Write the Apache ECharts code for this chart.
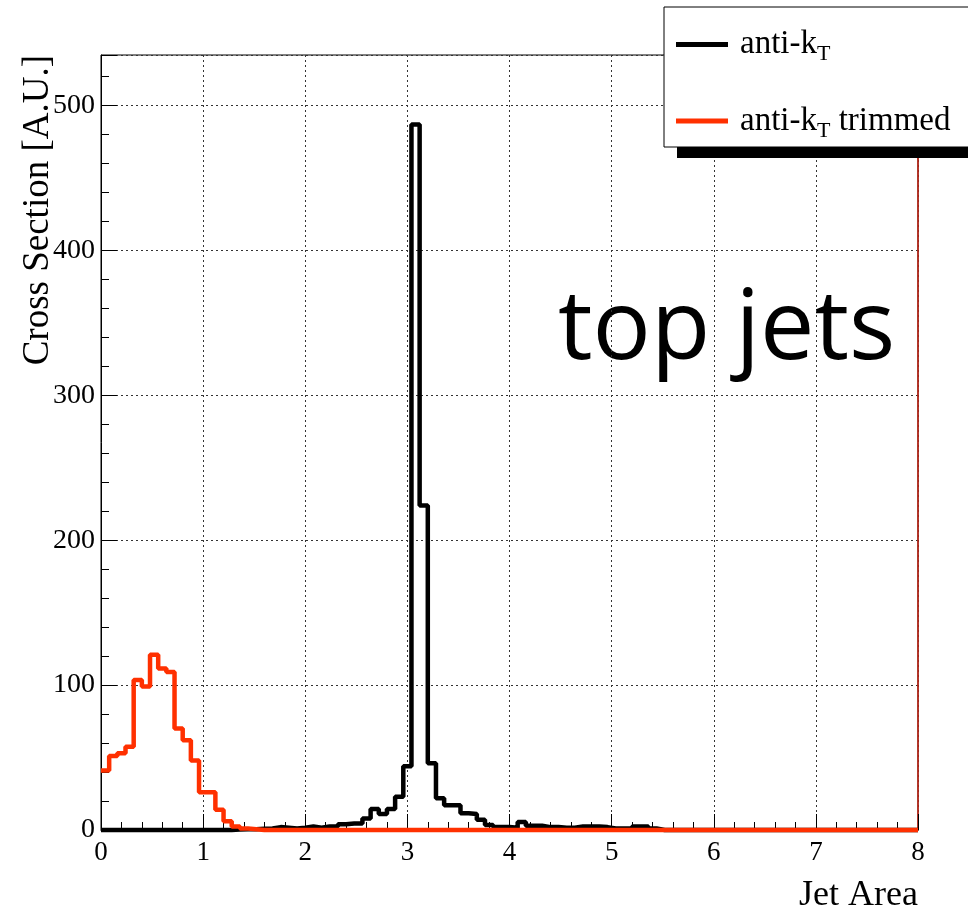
<!DOCTYPE html>
<html>
<head>
<meta charset="utf-8">
<script src="https://cdn.jsdelivr.net/npm/echarts@6.0.0/dist/echarts.min.js"></script>
<style>
  html, body { margin: 0; padding: 0; background: #fff; }
  #main { width: 968px; height: 916px; }
</style>
</head>
<body>
<div id="main"></div>
<script>
// histogram bins: 100 bins over [0, 8]
const binWidth = 0.08;

// anti-kT (black)
const antiKt = [
  0, 0, 0, 0, 0, 0, 0, 0, 0, 0,
  0, 0, 0, 0, 0, 0, 0.3, 0.5, 0.5, 0.8,
  1, 2, 1.5, 1, 1.5, 2.5, 1.5, 2.5, 2.5, 4,
  4.5, 4.5, 8, 14.5, 11, 14.5, 23, 44, 487, 224,
  46, 22, 17, 17, 11.5, 11, 7, 3.5, 2, 2,
  1.5, 5.5, 3, 3, 2, 2, 1.5, 1.5, 2.5, 2.5,
  2.5, 2, 1, 1, 1, 2.5, 2.5, 1, 0, 0,
  0, 0, 0, 0, 0, 0, 0, 0, 0, 0,
  0, 0, 0, 0, 0, 0, 0, 0, 0, 0,
  0, 0, 0, 0, 0, 0, 0, 0, 0, 0
];

// anti-kT trimmed (red)
const antiKtTrimmed = [
  41, 51, 53, 57.5, 103.5, 99, 121, 111.5, 109, 70,
  62, 48, 26, 26, 14, 6, 2.5, 1, 0.5, 0,
  0, 0, 0, 0, 0, 0, 0, 0, 0, 0,
  0, 0, 0, 0, 0, 0, 0, 0, 0, 0,
  0, 0, 0, 0, 0, 0, 0, 0, 0, 0,
  0, 0, 0, 0, 0, 0, 0, 0, 0, 0,
  0, 0, 0, 0, 0, 0, 0, 0, 0, 0,
  0, 0, 0, 0, 0, 0, 0, 0, 0, 0,
  0, 0, 0, 0, 0, 0, 0, 0, 0, 0,
  0, 0, 0, 0, 0, 0, 0, 0, 0, 0
];

const seriesNames = ['anti-kT', 'anti-kT trimmed'];
const legendLabels = {
  'anti-kT': '{f|anti-k}{s|T}',
  'anti-kT trimmed': '{f|anti-k}{s|T}{m| trimmed}'
};

const serif = '"Liberation Serif", "DejaVu Serif", serif';

// left bin edges -> step points, last edge closes the final bin
function toSteps(values) {
  const pts = values.map((v, i) => [i * binWidth, v]);
  pts.push([values.length * binWidth, values[values.length - 1]]);
  return pts;
}

const chart = echarts.init(document.getElementById('main'));

const option = {
  animation: false,
  backgroundColor: '#fff',
  grid: {
    left: 101, right: 50, top: 55, bottom: 86,
    show: true,
    borderColor: '#000',
    borderWidth: 1,
    outerBoundsMode: 'none'
  },
  legend: {
    orient: 'vertical',
    left: 663,
    top: 3,
    data: seriesNames,
    selectedMode: false,
    icon: 'rect',
    itemWidth: 52,
    itemHeight: 5,
    itemGap: 39,
    padding: [25, 40, 22, 13],
    formatter: name => legendLabels[name],
    textStyle: {
      color: '#000',
      fontFamily: serif,
      rich: {
        f: { fontSize: 33, fontFamily: serif, color: '#000', lineHeight: 30, padding: [0, 0, 0, 7] },
        m: { fontSize: 33, fontFamily: serif, color: '#000', lineHeight: 30 },
        s: { fontSize: 22, fontFamily: serif, color: '#000', padding: [20, 0, 0, 0] }
      }
    }
  },
  xAxis: {
    type: 'value',
    min: 0,
    max: 8,
    interval: 1,
    axisLine: { show: true, onZero: false, lineStyle: { color: '#000', width: 1 } },
    axisTick: { show: true, inside: true, length: 16, lineStyle: { color: '#000', width: 1 } },
    minorTick: { show: true, splitNumber: 5, length: 8, lineStyle: { color: '#000', width: 1 } },
    axisLabel: { color: '#000', fontFamily: serif, fontSize: 27, margin: 9 },
    splitLine: { show: true, lineStyle: { color: '#333', width: 1, type: [2, 3] } }
  },
  yAxis: [
    {
      type: 'value',
      min: 0,
      max: 535,
      interval: 100,
      axisLine: { show: true, onZero: false, lineStyle: { color: '#000', width: 1 } },
      axisTick: { show: true, inside: true, length: 16, lineStyle: { color: '#000', width: 1 } },
      minorTick: { show: true, splitNumber: 5, length: 8, lineStyle: { color: '#000', width: 1 } },
      axisLabel: { color: '#000', fontFamily: serif, fontSize: 28, margin: 6, showMaxLabel: false },
      splitLine: { show: true, lineStyle: { color: '#333', width: 1, type: [2, 3] } }
    },
    {
      type: 'value',
      position: 'right',
      min: 0,
      max: 535,
      interval: 100,
      axisLine: { show: true, onZero: false, lineStyle: { color: '#c42010', width: 1.5 } },
      axisTick: { show: false },
      axisLabel: { show: false },
      splitLine: { show: false }
    }
  ],
  graphic: [
    // legend box with its hard drop shadow
    {
      type: 'rect',
      z: 3,
      shape: { x: 677, y: 18, width: 340, height: 140 },
      style: { fill: '#000' }
    },
    {
      type: 'rect',
      z: 3,
      shape: { x: 664, y: 7, width: 340, height: 140 },
      style: { fill: '#fff', stroke: '#000', lineWidth: 1 }
    },
    {
      type: 'text',
      x: 38,
      y: 55,
      rotation: Math.PI / 2,
      style: {
        text: 'Cross Section [A.U.]',
        fontFamily: serif,
        fontSize: 37,
        fill: '#000',
        align: 'right',
        verticalAlign: 'middle'
      }
    },
    {
      type: 'text',
      x: 918,
      y: 896,
      style: {
        text: 'Jet Area',
        fontFamily: serif,
        fontSize: 36,
        fill: '#000',
        align: 'right',
        verticalAlign: 'middle'
      }
    },
    {
      type: 'text',
      x: 558,
      y: 331,
      style: {
        text: 'top jets',
        fontFamily: '"Open Sans", Lato, sans-serif',
        fontSize: 97,
        fill: '#000',
        align: 'left',
        verticalAlign: 'middle'
      }
    }
  ],
  series: [
    {
      name: seriesNames[0],
      type: 'line',
      step: 'end',
      symbol: 'none',
      clip: false,
      data: toSteps(antiKt),
      itemStyle: { color: '#000' },
      lineStyle: { color: '#000', width: 4.5 }
    },
    {
      name: seriesNames[1],
      type: 'line',
      step: 'end',
      symbol: 'none',
      clip: false,
      data: toSteps(antiKtTrimmed),
      itemStyle: { color: '#ff3000' },
      lineStyle: { color: '#ff3000', width: 4.5 }
    }
  ]
};

chart.setOption(option);
</script>
</body>
</html>
